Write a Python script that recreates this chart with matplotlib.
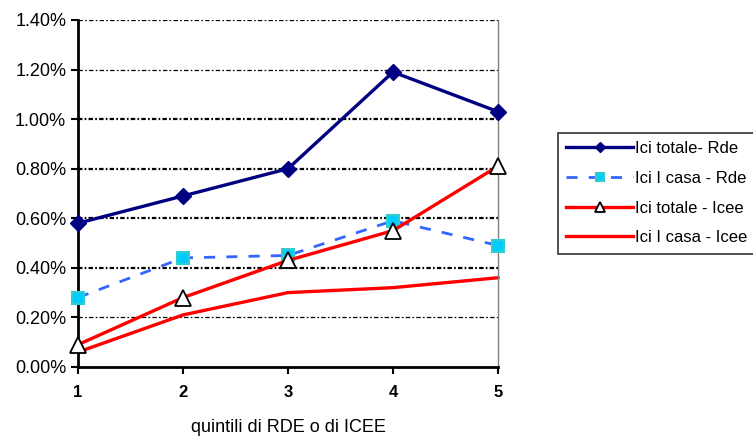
import matplotlib.pyplot as plt

plt.rcParams['font.family'] = ['Liberation Sans', 'DejaVu Sans']

# quintili
quintili = [1, 2, 3, 4, 5]
ici_totale_rde = [0.58, 0.69, 0.80, 1.19, 1.03]
ici_casa_rde = [0.28, 0.44, 0.45, 0.59, 0.49]
ici_totale_icee = [0.09, 0.28, 0.43, 0.55, 0.81]
ici_casa_icee = [0.06, 0.21, 0.30, 0.32, 0.36]
y_ticks = [0.0, 0.2, 0.4, 0.6, 0.8, 1.0, 1.2, 1.4]
y_labels = ['0.00%', '0.20%', '0.40%', '0.60%', '0.80%', '1.00%', '1.20%', '1.40%']

fig = plt.figure(figsize=(7.53, 4.40), dpi=100)
ax = fig.add_axes([0.1036, 0.166, 0.5578, 0.7886])

# griglia tratto-punto (periodo di circa 7.5 pt)
for yv in y_ticks[1:]:
    lw = 1.6 if 0.3 < yv < 1.1 else 0.9
    d = [3.2, 1.6, 1.2, 1.6]
    ax.axhline(yv, color='black', lw=lw, dashes=[v / lw for v in d], zorder=1)

ax.plot(quintili, ici_totale_rde, color='#000080', lw=2.4, marker='D', ms=8,
        label='Ici totale- Rde', zorder=4, clip_on=False)
ax.plot(quintili, ici_casa_rde, color='#3366FF', lw=2, dashes=(4, 4), marker='s', ms=9,
        markerfacecolor='#00CCFF', markeredgecolor='#33CCCC', markeredgewidth=1.5,
        label='Ici I casa - Rde', zorder=3, clip_on=False)
ax.plot(quintili, ici_totale_icee, color='#FF0000', lw=2.4, marker='^', ms=11,
        markerfacecolor='white', markeredgecolor='black', markeredgewidth=1.3,
        label='Ici totale - Icee', zorder=5, clip_on=False)
ax.plot(quintili, ici_casa_icee, color='#FF0000', lw=2.4,
        label='Ici I casa - Icee', zorder=2, clip_on=False)

ax.set_xlim(1, 5)
ax.set_ylim(0, 1.4)
ax.set_xticks(quintili)
ax.set_xticklabels([str(q) for q in quintili], fontweight='bold', fontsize=12)
ax.set_yticks(y_ticks)
ax.set_yticklabels(y_labels, fontsize=13)
ax.tick_params(axis='both', direction='out', length=5, width=1.5, color='black')
ax.tick_params(axis='x', pad=8)

ax.spines['top'].set_visible(False)
ax.spines['left'].set_linewidth(2)
ax.spines['bottom'].set_linewidth(2)
ax.spines['right'].set_color('#808080')
ax.spines['right'].set_linewidth(1)

ax.set_xlabel('quintili di RDE o di ICEE', fontsize=13, labelpad=14)

leg = fig.legend(loc='upper left', bbox_to_anchor=(0.741, 0.698), fontsize=12,
                 handlelength=4, frameon=True, fancybox=False, borderpad=0.5,
                 labelspacing=0.88, handletextpad=0.1, borderaxespad=0,
                 markerscale=0.6)
leg.get_frame().set_edgecolor('black')
leg.get_frame().set_linewidth(1.2)

fig.savefig('out.png', dpi=100)
